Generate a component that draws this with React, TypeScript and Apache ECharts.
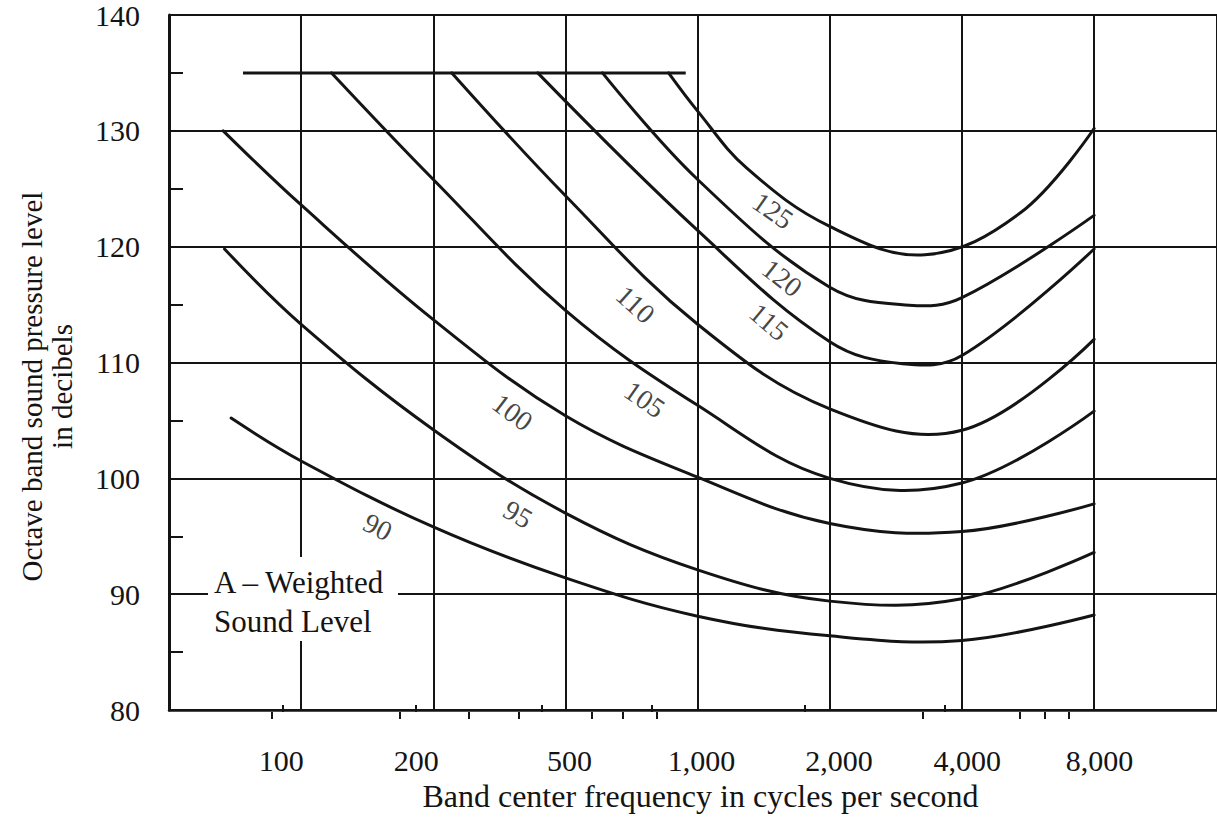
import React, { useEffect, useRef } from "react";
import * as echarts from "echarts";

// ---- data (x = position in octave-band units from the left axis, y = dB) ----
const curveNames = ["90", "95", "100", "105", "110", "115", "120", "125"];

const curve90 = [[0.47, 105.2], [1, 101.5], [2, 95.8], [3, 91.4], [4, 88.1], [5, 86.4], [6, 86.0], [7, 88.2]];
const curve95 = [[0.42, 119.8], [1, 113.3], [2, 104.2], [3, 97.0], [4, 92.1], [5, 89.4], [6, 89.6], [7, 93.6]];
const curve100 = [[0.41, 130.0], [1, 123.6], [2, 113.7], [3, 105.4], [4, 100.1], [5, 96.1], [6, 95.4], [7, 97.8]];
const curve105 = [[1.23, 135.0], [2, 125.8], [3, 114.5], [4, 106.3], [5, 100.0], [6, 99.6], [7, 105.8]];
const curve110 = [[2.14, 135.0], [3, 124.4], [4, 113.3], [5, 106.0], [6, 104.15], [7, 112.0]];
const curve115 = [[2.79, 135.0], [4, 121.4], [5, 111.8], [5.55, 109.9], [6, 110.6], [7, 119.8]];
const curve120 = [[3.28, 135.0], [4, 125.8], [5, 116.5], [5.6, 114.95], [6, 115.6], [7, 122.7]];
const curve125 = [[3.78, 135.0], [4, 131.7], [4.37, 126.8], [5, 121.75], [5.72, 119.3], [6.44, 122.9], [7, 130.2]];
const curveData = [curve90, curve95, curve100, curve105, curve110, curve115, curve120, curve125];

const capLine = [[0.56, 135], [3.91, 135]];

const curveLabelX = [1.58, 2.64, 2.6, 3.6, 3.53, 4.54, 4.64, 4.57];
const curveLabelY = [95.8, 96.9, 105.7, 106.8, 115.0, 113.5, 117.3, 123.1];
const curveLabelRotate = [-27, -30, -37, -35, -42, -40, -38, -35];

const xLabelPos = [0.85, 1.87, 3.03, 4.03, 5.07, 6.04, 7.04];
const xLabelText = ["100", "200", "500", "1,000", "2,000", "4,000", "8,000"];
const xUpTicks = [0.86, 1.865, 2.82, 3.655, 4.81, 5.87];
const xDownTicks = [0.78, 1.745, 2.27, 2.65, 3.2, 3.43, 3.69, 5.7, 6.44, 6.63, 6.81];

const X_MAX = 7.93;

const font = "'Liberation Serif', 'Times New Roman', serif";
const ink = "#141414";

// smooth curve through the series' own points, positioned by the axes (api.coord)
function renderCurve(params: any, api: any) {
  if (params.dataIndexInside !== 0) return null;
  const pts: number[][] = [];
  for (let i = 0; i < params.dataInsideLength; i++) {
    pts.push(api.coord([api.value(0, i), api.value(1, i)]));
  }
  return {
    type: "polyline",
    silent: true,
    shape: { points: pts, smooth: 0.38 },
    style: { stroke: ink, lineWidth: 3, fill: null, lineJoin: "round", lineCap: "round" },
  };
}

export default function App() {
  const ref = useRef<HTMLDivElement>(null);

  useEffect(() => {
    if (!ref.current) return;
    const chart = echarts.init(ref.current, undefined, { renderer: "svg" });
    const gridBox = { left: 169, top: 15, width: 1050, height: 697 };

    const option: any = {
      animation: false,
      backgroundColor: "#ffffff",
      grid: [{ ...gridBox }, { ...gridBox }, { ...gridBox }],
      xAxis: [
        {
          gridIndex: 0,
          type: "value",
          min: 0,
          max: X_MAX,
          interval: 1,
          axisLine: { show: true, onZero: false, lineStyle: { color: ink, width: 2.5 } },
          axisTick: { show: false },
          axisLabel: { show: false },
          splitLine: { show: true, lineStyle: { color: ink, width: 2 } },
          name: "Band center frequency in cycles per second",
          nameLocation: "middle",
          nameGap: 70,
          nameTextStyle: { fontSize: 32, fontFamily: font, color: ink, padding: [0, 0, 0, 15] },
        },
        {
          gridIndex: 1,
          type: "value",
          min: 0,
          max: X_MAX,
          axisLine: { show: false },
          axisTick: { show: true, inside: true, length: 7, customValues: xUpTicks, lineStyle: { color: ink, width: 2 } },
          axisLabel: {
            show: true,
            customValues: xLabelPos,
            margin: 33,
            fontSize: 30,
            fontFamily: font,
            color: ink,
            formatter: (v: number) => {
              const i = xLabelPos.findIndex((p) => Math.abs(p - v) < 1e-6);
              return i >= 0 ? xLabelText[i] : "";
            },
          },
          splitLine: { show: false },
        },
        {
          gridIndex: 2,
          type: "value",
          min: 0,
          max: X_MAX,
          axisLine: { show: false },
          axisTick: { show: true, inside: false, length: 7, customValues: xDownTicks, lineStyle: { color: ink, width: 2 } },
          axisLabel: { show: false },
          splitLine: { show: false },
        },
      ],
      yAxis: [
        {
          gridIndex: 0,
          type: "value",
          min: 80,
          max: 140,
          interval: 10,
          axisLine: { show: true, lineStyle: { color: ink, width: 3 } },
          axisTick: { show: false, inside: true },
          minorTick: { show: true, splitNumber: 2, length: 14, lineStyle: { color: ink, width: 2 } },
          axisLabel: { fontSize: 30, fontFamily: font, color: ink, margin: 29 },
          splitLine: { show: true, lineStyle: { color: ink, width: 2 } },
          name: "Octave band sound pressure level\nin decibels",
          nameLocation: "middle",
          nameRotate: 90,
          nameGap: 92,
          nameTextStyle: { fontSize: 29, fontFamily: font, color: ink, lineHeight: 30, padding: [0, 48, 0, 0] },
        },
        { gridIndex: 1, type: "value", min: 80, max: 140, show: false },
        { gridIndex: 2, type: "value", min: 80, max: 140, show: false },
      ],
      graphic: [
        { type: "rect", z: 100, shape: { x: 208, y: 557, width: 190, height: 84 }, style: { fill: "#ffffff" } },
        {
          type: "text",
          z: 101,
          x: 214,
          y: 563,
          style: {
            text: "A – Weighted\nSound Level",
            fontSize: 31,
            fontFamily: font,
            fill: ink,
            lineHeight: 39,
            verticalAlign: "top",
            align: "left",
          },
        },
      ],
      series: [
        ...curveNames.map((n, i) => ({
          type: "custom",
          name: n,
          xAxisIndex: 0,
          yAxisIndex: 0,
          coordinateSystem: "cartesian2d",
          encode: { x: 0, y: 1 },
          data: curveData[i],
          renderItem: renderCurve,
          silent: true,
          z: 3,
        })),
        {
          type: "line",
          name: "cap",
          xAxisIndex: 0,
          yAxisIndex: 0,
          data: capLine,
          symbol: "none",
          silent: true,
          z: 3,
          lineStyle: { color: ink, width: 3 },
        },
        {
          type: "scatter",
          name: "labels",
          xAxisIndex: 0,
          yAxisIndex: 0,
          symbolSize: 1,
          itemStyle: { color: "rgba(0,0,0,0)" },
          silent: true,
          z: 5,
          label: { show: true, position: "inside", formatter: "{b}", fontSize: 28, fontFamily: font, color: ink },
          data: curveNames.map((n, i) => ({
            name: n,
            value: [curveLabelX[i], curveLabelY[i]],
            label: { rotate: curveLabelRotate[i] },
          })),
        },
      ],
    };

    chart.setOption(option);
    return () => chart.dispose();
  }, []);

  return (
    <div
      ref={ref}
      style={{ position: "absolute", left: 0, top: 0, width: 1217, height: 817, background: "#fff" }}
    />
  );
}
